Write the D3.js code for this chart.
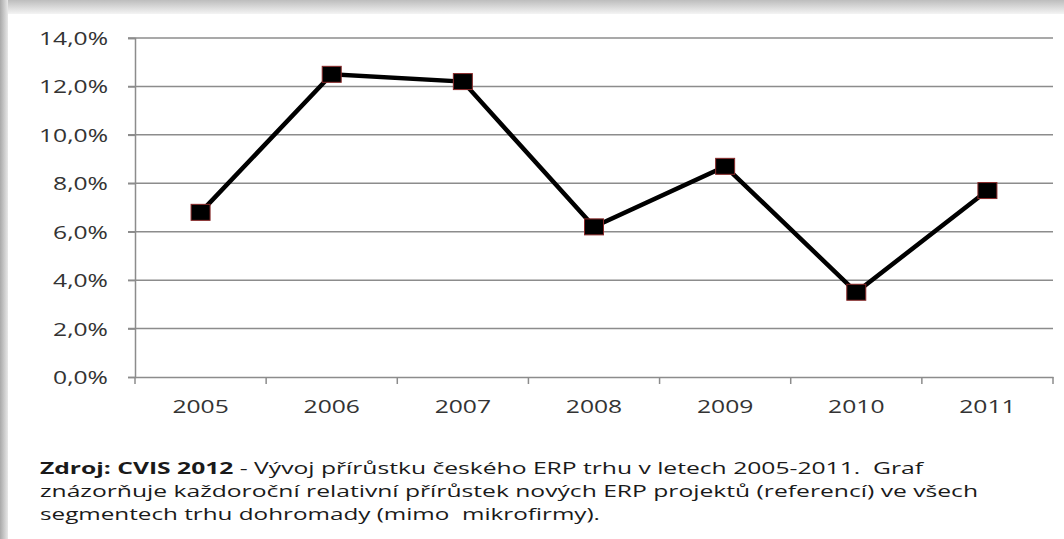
<!DOCTYPE html>
<html><head><meta charset="utf-8">
<script src="https://cdn.jsdelivr.net/npm/d3@7"></script>
<style>html,body{margin:0;padding:0;background:#fff;overflow:hidden}</style>
</head><body>
<svg id="c" width="1064" height="539"></svg>
<script>
const years = ["2005","2006","2007","2008","2009","2010","2011"];
const growth = [6.8, 12.5, 12.2, 6.2, 8.7, 3.5, 7.7];
const yTicks = [0, 2, 4, 6, 8, 10, 12, 14];
const captionBold = "Zdroj: CVIS 2012";
const captionLines = [
  " - Vývoj přírůstku českého ERP trhu v letech 2005-2011.  Graf",
  "znázorňuje každoroční relativní přírůstek nových ERP projektů (referencí) ve všech",
  "segmentech trhu dohromady (mimo  mikrofirmy)."
];

const svg = d3.select("#c");
const font = "'Open Sans', Lato, sans-serif";
const sx = 1.37; // horizontal stretch of the reference's text
const defs = svg.append("defs");
const gt = defs.append("linearGradient").attr("id","gt").attr("x1",0).attr("y1",0).attr("x2",0).attr("y2",1);
gt.append("stop").attr("offset","0").attr("stop-color","#bdbdbd");
gt.append("stop").attr("offset","1").attr("stop-color","#f4f4f4");
const gl = defs.append("linearGradient").attr("id","gl").attr("x1",0).attr("y1",0).attr("x2",1).attr("y2",0);
gl.append("stop").attr("offset","0").attr("stop-color","#a9a9a9");
gl.append("stop").attr("offset","1").attr("stop-color","#e8e8e8");
svg.append("rect").attr("x",0).attr("y",0).attr("width",1064).attr("height",14).attr("fill","url(#gt)");
svg.append("rect").attr("x",0).attr("y",0).attr("width",8).attr("height",539).attr("fill","url(#gl)");

const x = d3.scaleBand().domain(years).range([135, 1053]);
const y = d3.scaleLinear().domain([0, 14]).range([377, 38]);

// gridlines
svg.append("g").selectAll("line").data(yTicks.filter(d => d > 0)).join("line")
  .attr("x1", 128).attr("x2", 1053)
  .attr("y1", d => y(d)).attr("y2", d => y(d))
  .attr("stroke", "#8c8c8c").attr("stroke-width", 1.5);

// y axis
const yAxis = d3.axisLeft(y).tickValues(yTicks).tickSize(7)
  .tickFormat(d => d.toFixed(1).replace(".", ",") + "%");
const ga = svg.append("g").attr("transform", "translate(135,0)").call(yAxis);
ga.select(".domain").attr("stroke", "#8c8c8c").attr("stroke-width", 1.5);
ga.selectAll(".tick line").attr("stroke", "#8c8c8c").attr("stroke-width", 1.5);
ga.selectAll("text").attr("font-family", font).attr("font-size", 18).attr("fill", "#333")
  .attr("x", -27 / sx).attr("dy", "0.36em").attr("transform", `scale(${sx},1)`);

// x axis
const xAxis = d3.axisBottom(x).tickSize(0).tickPadding(22);
const gx = svg.append("g").attr("transform", "translate(0,377)").call(xAxis);
gx.select(".domain").attr("stroke", "#8c8c8c").attr("stroke-width", 1.5);
gx.selectAll("text").attr("font-family", font).attr("font-size", 18).attr("fill", "#333")
  .attr("y", 23).attr("transform", `scale(${sx},1)`);
// category boundary ticks
svg.append("g").selectAll("line").data(years).join("line")
  .attr("x1", d => x(d) + x.bandwidth()).attr("x2", d => x(d) + x.bandwidth())
  .attr("y1", 377).attr("y2", 384).attr("stroke", "#8c8c8c").attr("stroke-width", 1.5);
svg.append("line").attr("x1",135).attr("x2",135).attr("y1",377).attr("y2",384)
  .attr("stroke", "#8c8c8c").attr("stroke-width", 1.5);

const cx = (d, i) => x(years[i]) + x.bandwidth() / 2;
const line = d3.line().x((d, i) => cx(d, i)).y(d => y(d));
svg.append("path").datum(growth).attr("d", line)
  .attr("fill", "none").attr("stroke", "#000").attr("stroke-width", 4.5).attr("stroke-linejoin", "miter");

const mw = 19, mh = 16;
svg.append("g").selectAll("rect").data(growth).join("rect")
  .attr("x", (d, i) => cx(d, i) - mw / 2).attr("y", d => y(d) - mh / 2)
  .attr("width", mw).attr("height", mh)
  .attr("fill", "#000").attr("stroke", "#8a2a2a").attr("stroke-width", 1);

// caption: each line fitted to the width it has in the reference
const cap = svg.append("g").attr("font-family", font).attr("font-size", 16).attr("fill", "#1a1a1a");
const lineEnds = [923, 978, 600];
const baselines = [474, 497, 520];
for (let i = 0; i < 3; i++) {
  const t = cap.append("text").attr("x", 40).attr("y", baselines[i])
    .attr("style", "white-space:pre")
    .attr("textLength", lineEnds[i] - 40).attr("lengthAdjust", "spacingAndGlyphs");
  if (i === 0) {
    t.append("tspan").attr("font-weight", "bold").text(captionBold);
    t.append("tspan").text(captionLines[0]);
  } else {
    t.text(captionLines[i]);
  }
}
</script>
</body></html>
